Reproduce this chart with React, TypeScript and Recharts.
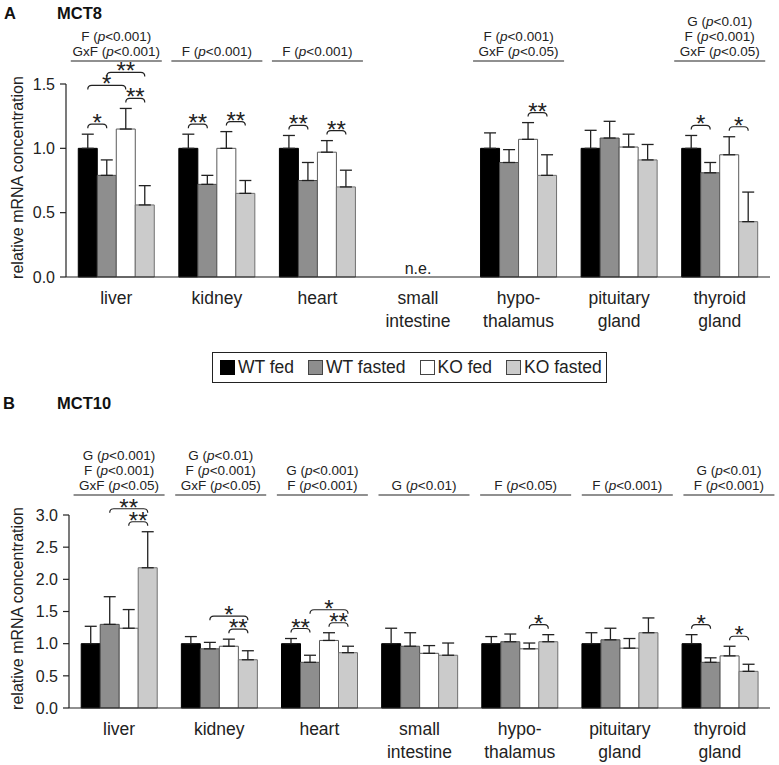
import React from 'react';
import { BarChart, Bar, XAxis, YAxis, ErrorBar, LabelList } from 'recharts';

const FONT = '"Liberation Sans", Arial, Helvetica, sans-serif';
const INK = '#222222';

const CATEGORIES = [
  'liver',
  'kidney',
  'heart',
  'small\nintestine',
  'hypo-\nthalamus',
  'pituitary\ngland',
  'thyroid\ngland',
];

const SERIES = [
  { key: 'wtFed', name: 'WT fed', fill: '#000000', stroke: '#000000' },
  { key: 'wtFasted', name: 'WT fasted', fill: '#8e8e8e', stroke: '#4d4d4d' },
  { key: 'koFed', name: 'KO fed', fill: '#ffffff', stroke: '#5a5a5a' },
  { key: 'koFasted', name: 'KO fasted', fill: '#cbcbcb', stroke: '#707070' },
];

// MCT8 (panel A), null = not expressed
const MCT8_WT_FED = [1.0, 1.0, 1.0, null, 1.0, 1.0, 1.0];
const MCT8_WT_FASTED = [0.79, 0.72, 0.75, null, 0.89, 1.08, 0.81];
const MCT8_KO_FED = [1.15, 1.0, 0.97, null, 1.07, 1.01, 0.95];
const MCT8_KO_FASTED = [0.56, 0.65, 0.7, null, 0.79, 0.91, 0.43];
const MCT8_WT_FED_SEM = [0.11, 0.11, 0.1, null, 0.12, 0.14, 0.1];
const MCT8_WT_FASTED_SEM = [0.12, 0.07, 0.14, null, 0.1, 0.13, 0.08];
const MCT8_KO_FED_SEM = [0.16, 0.13, 0.09, null, 0.13, 0.1, 0.14];
const MCT8_KO_FASTED_SEM = [0.15, 0.1, 0.13, null, 0.16, 0.12, 0.23];

// MCT10 (panel B)
const MCT10_WT_FED = [1.0, 1.0, 1.0, 1.0, 1.0, 1.0, 1.0];
const MCT10_WT_FASTED = [1.3, 0.92, 0.71, 0.96, 1.03, 1.06, 0.71];
const MCT10_KO_FED = [1.24, 0.96, 1.05, 0.85, 0.92, 0.93, 0.81];
const MCT10_KO_FASTED = [2.18, 0.75, 0.86, 0.82, 1.03, 1.17, 0.57];
const MCT10_WT_FED_SEM = [0.27, 0.11, 0.08, 0.24, 0.11, 0.17, 0.14];
const MCT10_WT_FASTED_SEM = [0.43, 0.1, 0.11, 0.21, 0.12, 0.18, 0.07];
const MCT10_KO_FED_SEM = [0.29, 0.11, 0.12, 0.12, 0.09, 0.15, 0.15];
const MCT10_KO_FASTED_SEM = [0.56, 0.14, 0.1, 0.19, 0.11, 0.23, 0.11];

// two-way ANOVA results shown above each organ
const MCT8_EFFECTS = [
  ['F (p<0.001)', 'GxF (p<0.001)'],
  ['F (p<0.001)'],
  ['F (p<0.001)'],
  [],
  ['F (p<0.001)', 'GxF (p<0.05)'],
  [],
  ['G (p<0.01)', 'F (p<0.001)', 'GxF (p<0.05)'],
];
const MCT10_EFFECTS = [
  ['G (p<0.001)', 'F (p<0.001)', 'GxF (p<0.05)'],
  ['G (p<0.01)', 'F (p<0.001)', 'GxF (p<0.05)'],
  ['G (p<0.001)', 'F (p<0.001)'],
  ['G (p<0.01)'],
  ['F (p<0.05)'],
  ['F (p<0.001)'],
  ['G (p<0.01)', 'F (p<0.001)'],
];

// post-hoc comparisons: [organ, from bar, to bar, mark]
const MCT8_POSTHOC = [
  [0, 0, 1, '*'], [0, 2, 3, '**'], [0, 0, 2, '*'], [0, 1, 3, '**'],
  [1, 0, 1, '**'], [1, 2, 3, '**'],
  [2, 0, 1, '**'], [2, 2, 3, '**'],
  [4, 2, 3, '**'],
  [6, 0, 1, '*'], [6, 2, 3, '*'],
];
const MCT10_POSTHOC = [
  [0, 2, 3, '**'], [0, 1, 3, '**'],
  [1, 2, 3, '**'], [1, 1, 3, '*'],
  [2, 0, 1, '**'], [2, 2, 3, '**'], [2, 1, 3, '*'],
  [4, 2, 3, '*'],
  [6, 0, 1, '*'], [6, 2, 3, '*'],
];

const buildRows = (vals: (number | null)[][], sems: (number | null)[][]) =>
  CATEGORIES.map((name, i) => {
    const row: any = { name };
    SERIES.forEach((s, k) => {
      row[s.key] = vals[k][i];
      row[s.key + 'Err'] = sems[k][i] == null ? null : [0, sems[k][i]];
    });
    return row;
  });

const rowsA = buildRows(
  [MCT8_WT_FED, MCT8_WT_FASTED, MCT8_KO_FED, MCT8_KO_FASTED],
  [MCT8_WT_FED_SEM, MCT8_WT_FASTED_SEM, MCT8_KO_FED_SEM, MCT8_KO_FASTED_SEM]
);
const rowsB = buildRows(
  [MCT10_WT_FED, MCT10_WT_FASTED, MCT10_KO_FED, MCT10_KO_FASTED],
  [MCT10_WT_FED_SEM, MCT10_WT_FASTED_SEM, MCT10_KO_FED_SEM, MCT10_KO_FASTED_SEM]
);

const withItalicP = (t: string) => {
  const [head, tail] = t.split('(p');
  return (
    <>
      {head + '('}
      <tspan fontStyle="italic">p</tspan>
      {tail}
    </>
  );
};

const EffectTick = (props: any) => {
  const { x, y, payload, effects, gap, drift } = props;
  const idx = CATEGORIES.indexOf(payload.value);
  const lines: string[] = effects[idx] ?? [];
  if (!lines.length) return null;
  const cx = x + drift * idx;
  const ly = y - gap;
  return (
    <g>
      {lines.map((t, i) => (
        <text
          key={i}
          x={cx}
          y={ly - 5 - (lines.length - 1 - i) * 15}
          textAnchor="middle"
          fontSize={13.5}
          fill={INK}
        >
          {withItalicP(t)}
        </text>
      ))}
      <line x1={cx - 45.5} x2={cx + 45.5} y1={ly} y2={ly} stroke={INK} strokeWidth={1.2} />
    </g>
  );
};

const OrganTick = (props: any) => {
  const { x, y, payload, notExpressed } = props;
  const lines = String(payload.value).split('\n');
  return (
    <g>
      {notExpressed.includes(payload.value) && (
        <text x={x} y={y - 3} textAnchor="middle" fontSize={16} fill={INK}>
          n.e.
        </text>
      )}
      {lines.map((l, i) => (
        <text key={i} x={x} y={y + 27 + i * 22.5} textAnchor="middle" fontSize={17.5} fill={INK}>
          {l}
        </text>
      ))}
    </g>
  );
};

// brackets for post-hoc tests, placed above the error bars of the compared bars
const makeBrackets = (rows: any[], posthoc: any[]) => (props: any) => {
  const vb = props.viewBox || props;
  const { x, y, width, height } = vb;
  const row = rows.find((r) => r.name === props.value) ?? rows[props.index];
  if (!row || !row.wtFed || !height) return null;
  const idx = CATEGORIES.indexOf(row.name);
  const base = y + height;
  const k = height / row.wtFed;
  const cx = (j: number) => x + width * (j + 0.5);
  const top = (j: number) => {
    const s = SERIES[j].key;
    return base - (row[s] + (row[s + 'Err'] ? row[s + 'Err'][1] : 0)) * k;
  };
  const placed: { a: number; b: number; y: number }[] = [];
  return (
    <g>
      {posthoc
        .filter((p) => p[0] === idx)
        .map(([, a, b, mark], n) => {
          const tops = [];
          for (let j = a; j <= b; j++) tops.push(top(j));
          let ly = Math.min(...tops) - 10;
          placed.forEach((p) => {
            if (p.a <= b && a <= p.b) ly = Math.min(ly, p.y - 13);
          });
          placed.push({ a, b, y: ly });
          const x1 = cx(a);
          const x2 = cx(b);
          return (
            <g key={n}>
              <path
                d={`M ${x1} ${ly + 4} Q ${x1} ${ly} ${x1 + 4} ${ly} L ${x2 - 4} ${ly} Q ${x2} ${ly} ${x2} ${ly + 4}`}
                fill="none"
                stroke={INK}
                strokeWidth={1.2}
              />
              <text x={(x1 + x2) / 2} y={ly + 7} textAnchor="middle" fontSize={24} fill={INK}>
                {mark}
              </text>
            </g>
          );
        })}
    </g>
  );
};

interface PanelProps {
  rows: any[];
  effects: string[][];
  posthoc: any[];
  yMax: number;
  ticks: number[];
  height: number;
  topH: number;
  bottomH: number;
  axisW: number;
  gap: number;
  drift: number;
}

const Panel = ({ rows, effects, posthoc, yMax, ticks, height, topH, bottomH, axisW, gap, drift }: PanelProps) => {
  const notExpressed = rows.filter((r) => r.wtFed == null).map((r) => r.name);
  return (
    <BarChart
      width={779}
      height={height}
      data={rows}
      margin={{ top: 0, right: 9, bottom: 0, left: 0 }}
      barCategoryGap="12.2%"
      barGap={0}
    >
      <XAxis
        xAxisId="top"
        orientation="top"
        dataKey="name"
        interval={0}
        axisLine={false}
        tickLine={false}
        tickSize={0}
        tickMargin={0}
        height={topH}
        tick={(p: any) => <EffectTick {...p} effects={effects} gap={gap} drift={drift} />}
      />
      <XAxis
        dataKey="name"
        interval={0}
        tickLine={false}
        tickSize={0}
        tickMargin={0}
        height={bottomH}
        axisLine={{ stroke: INK, strokeWidth: 1.2 }}
        tick={(p: any) => <OrganTick {...p} notExpressed={notExpressed} />}
      />
      <YAxis
        width={axisW}
        domain={[0, yMax]}
        ticks={ticks}
        tickFormatter={(v: number) => v.toFixed(1)}
        tick={{ fontSize: 16, fill: INK }}
        tickSize={6}
        tickMargin={5}
        axisLine={{ stroke: INK, strokeWidth: 1.2 }}
        tickLine={{ stroke: INK, strokeWidth: 1.2 }}
        label={(lp: any) => {
          const vb = lp.viewBox || {};
          const cy = (vb.y ?? 0) + (vb.height ?? 0) / 2 - 3;
          return (
            <text
              x={23}
              y={cy}
              transform={`rotate(-90, 23, ${cy})`}
              textAnchor="middle"
              fontSize={16}
              fill={INK}
            >
              relative mRNA concentration
            </text>
          );
        }}
      />
      {SERIES.map((s, i) => (
        <Bar
          key={s.key}
          dataKey={s.key}
          name={s.name}
          fill={s.fill}
          stroke={s.stroke}
          strokeWidth={1}
          isAnimationActive={false}
        >
          <ErrorBar dataKey={s.key + 'Err'} width={6} stroke={INK} strokeWidth={1.3} direction="y" />
          {i === 0 && <LabelList dataKey="name" content={makeBrackets(rows, posthoc)} />}
        </Bar>
      ))}
    </BarChart>
  );
};

const titleStyle: React.CSSProperties = {
  position: 'absolute',
  fontWeight: 'bold',
  fontSize: 16.5,
  color: '#111',
};

export default function App() {
  return (
    <div
      style={{
        position: 'absolute',
        left: 0,
        top: 0,
        width: 779,
        height: 765,
        background: '#fff',
        fontFamily: FONT,
        color: INK,
      }}
    >
      <div style={{ position: 'absolute', left: 0, top: 0 }}>
        <Panel
          rows={rowsA}
          effects={MCT8_EFFECTS}
          posthoc={MCT8_POSTHOC}
          yMax={1.5}
          ticks={[0, 0.5, 1, 1.5]}
          height={340}
          topH={84}
          bottomH={63}
          axisW={66}
          gap={23}
          drift={0}
        />
      </div>
      <div style={{ position: 'absolute', left: 0, top: 390 }}>
        <Panel
          rows={rowsB}
          effects={MCT10_EFFECTS}
          posthoc={MCT10_POSTHOC}
          yMax={3}
          ticks={[0, 0.5, 1, 1.5, 2, 2.5, 3]}
          height={375}
          topH={125}
          bottomH={57}
          axisW={69}
          gap={20}
          drift={1.5}
        />
      </div>
      <div style={{ ...titleStyle, left: 4, top: 4 }}>A</div>
      <div style={{ ...titleStyle, left: 57, top: 4 }}>MCT8</div>
      <div style={{ ...titleStyle, left: 3, top: 394 }}>B</div>
      <div style={{ ...titleStyle, left: 57, top: 394 }}>MCT10</div>
      <div
        style={{
          position: 'absolute',
          left: 212,
          top: 352,
          height: 29,
          border: `1.3px solid ${INK}`,
          display: 'flex',
          alignItems: 'center',
          padding: '0 4px 0 7px',
          fontSize: 17.5,
          whiteSpace: 'nowrap',
        }}
      >
        {SERIES.map((s, i) => (
          <div key={s.key} style={{ display: 'flex', alignItems: 'center', marginRight: i < 3 ? 14 : 0 }}>
            <span
              style={{
                display: 'inline-block',
                width: 15,
                height: 15,
                boxSizing: 'border-box',
                background: s.fill,
                border: `1px solid ${s.stroke === '#000000' ? '#000' : '#444'}`,
                marginRight: 3,
              }}
            />
            {s.name}
          </div>
        ))}
      </div>
    </div>
  );
}
